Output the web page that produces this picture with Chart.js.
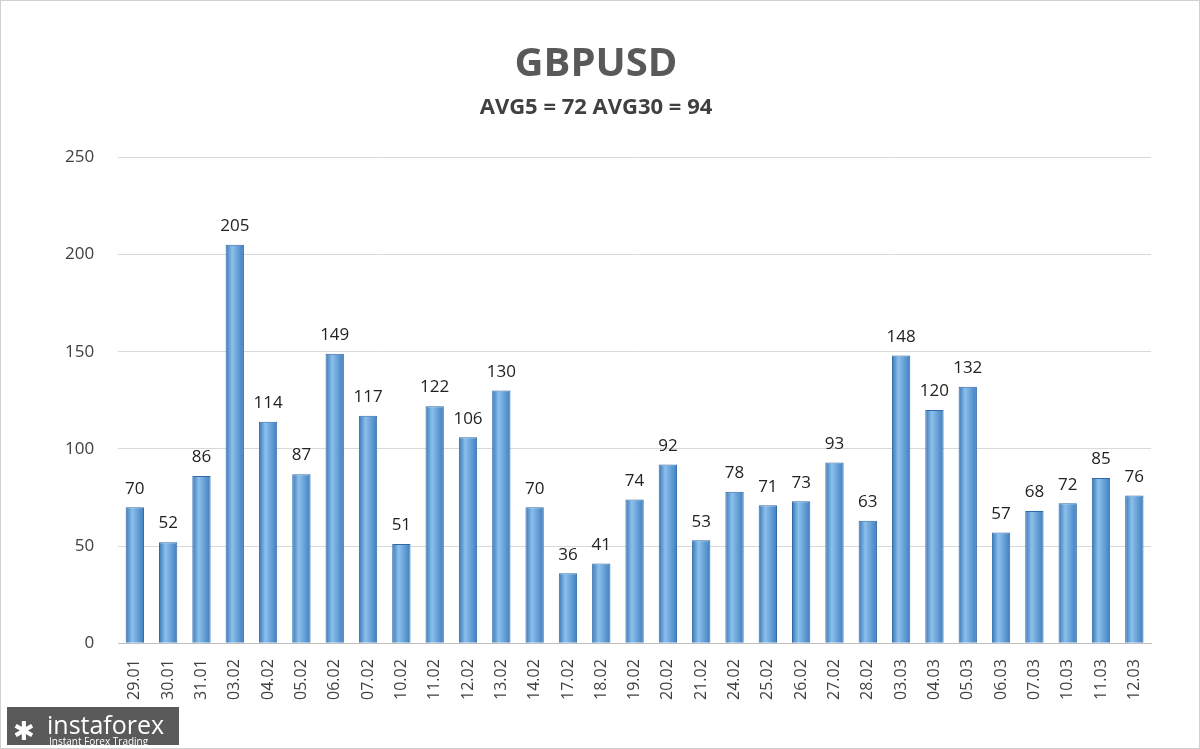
<!DOCTYPE html>
<html>
<head>
<meta charset="utf-8">
<script src="https://cdn.jsdelivr.net/npm/chart.js@4"></script>
<style>
  html, body { margin: 0; padding: 0; background: #fff; }
  #wrap { position: relative; width: 1198px; height: 747px; border: 1px solid #d0d0d0; }
  #logo { position: absolute; left: 6px; top: 706px; width: 172px; height: 38px; background: #5a5a5a; color: #fff;
          font-family: "Open Sans", sans-serif; }
  #logo b { position: absolute; left: 40px; top: 0px; font-size: 25px; font-weight: normal; }
  #logo i { position: absolute; left: 42px; top: 27px; font-size: 10px; font-style: normal; }
  #logo span { position: absolute; left: 6px; top: 5px; font-size: 26px; }
</style>
</head>
<body>
<div id="wrap">
  <canvas id="c" width="1198" height="747"></canvas>
  <div id="logo"><span>✱</span><b>instaforex</b><i>Instant Forex Trading</i></div>
</div>
<script>
const dates = ['29.01','30.01','31.01','03.02','04.02','05.02','06.02','07.02','10.02','11.02','12.02','13.02','14.02','17.02','18.02','19.02','20.02','21.02','24.02','25.02','26.02','27.02','28.02','03.03','04.03','05.03','06.03','07.03','10.03','11.03','12.03'];
const pips = [70,52,86,205,114,87,149,117,51,122,106,130,70,36,41,74,92,53,78,71,73,93,63,148,120,132,57,68,72,85,76];
const yTicks = [0,50,100,150,200,250];

const valueLabels = {
  id: 'valueLabels',
  afterDatasetsDraw(chart) {
    const ctx = chart.ctx;
    ctx.save();
    ctx.font = '17px "Open Sans", sans-serif';
    ctx.fillStyle = '#222';
    ctx.textAlign = 'center';
    ctx.textBaseline = 'bottom';
    chart.getDatasetMeta(0).data.forEach((bar, i) => {
      ctx.fillText(pips[i], bar.x, bar.y - 10);
    });
    ctx.restore();
  }
};

const ctx = document.getElementById('c');
new Chart(ctx, {
  type: 'bar',
  data: {
    labels: dates,
    datasets: [{
      data: pips,
      backgroundColor: (c) => {
        const a = c.chart.chartArea;
        const sx = c.chart.scales && c.chart.scales.x;
        if (!a || !sx || c.dataIndex === undefined) return '#5b9bd5';
        const x = sx.getPixelForValue(c.dataIndex), w = 18;
        if (!Number.isFinite(x)) return '#5b9bd5';
        const g = c.chart.ctx.createLinearGradient(x - w / 2, 0, x + w / 2, 0);
        g.addColorStop(0, '#3a78b8');
        g.addColorStop(0.35, '#8cc0ec');
        g.addColorStop(1, '#3f7fc0');
        return g;
      },
      borderColor: '#2f6aa8',
      borderWidth: 1,
      barPercentage: 0.55,
      categoryPercentage: 1
    }]
  },
  options: {
    responsive: false,
    animation: false,
    layout: { padding: { left: 40, right: 48, top: 10, bottom: 40 } },
    plugins: {
      legend: { display: false },
      tooltip: { enabled: false },
      title: {
        display: true, text: 'GBPUSD', color: '#595959',
        font: { family: '"Open Sans", sans-serif', size: 40, weight: 'bold' },
        padding: { top: 30, bottom: 6 }
      },
      subtitle: {
        display: true, text: 'AVG5 = 72 AVG30 = 94', color: '#404040',
        font: { family: '"Open Sans", sans-serif', size: 22, weight: 'bold' },
        padding: { bottom: 36 }
      }
    },
    scales: {
      y: {
        min: 0, max: 250,
        afterBuildTicks: (s) => { s.ticks = yTicks.map(v => ({ value: v })); },
        grid: { color: '#d9d9d9', drawTicks: false },
        border: { display: false },
        ticks: { color: '#404040', padding: 24, font: { family: '"Open Sans", sans-serif', size: 17 } }
      },
      x: {
        grid: { display: false },
        border: { color: '#bfbfbf' },
        ticks: { color: '#404040', minRotation: 90, maxRotation: 90, autoSkip: false, padding: 8,
                 font: { family: '"Open Sans", sans-serif', size: 16 } }
      }
    }
  },
  plugins: [valueLabels]
});
</script>
</body>
</html>
